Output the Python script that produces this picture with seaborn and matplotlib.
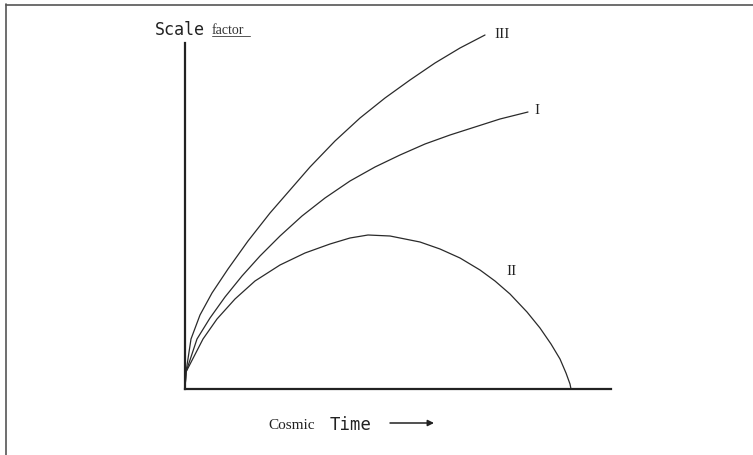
import matplotlib
matplotlib.use("Agg")
import matplotlib.pyplot as plt
from matplotlib.lines import Line2D
import pandas as pd
import seaborn as sns

sns.set_theme(style="white")

# values (1 unit = 10 px of the original)
t_open = [0.0, 0.1, 0.6, 1.5, 2.7, 4.3, 6.3, 8.5, 10.5, 12.5, 15.0, 17.5,
          20.0, 22.5, 25.0, 27.5, 30.0]
a_open = [0.0, 1.7, 5.0, 7.4, 9.6, 12.0, 14.8, 17.6, 19.9, 22.2, 24.8, 27.1,
          29.1, 30.9, 32.6, 34.1, 35.4]

t_flat = [0.0, 0.1, 1.2, 2.5, 4.0, 5.7, 7.5, 9.5, 11.7, 14.0, 16.5, 19.0,
          21.5, 24.0, 26.5, 29.0, 31.5, 34.3]
a_flat = [0.0, 1.7, 5.0, 7.1, 9.2, 11.3, 13.3, 15.3, 17.3, 19.1, 20.8, 22.2,
          23.4, 24.5, 25.4, 26.2, 27.0, 27.7]

t_closed = [0.0, 0.1, 1.8, 3.2, 5.0, 7.0, 9.5, 12.0, 14.5, 16.5, 18.3, 20.5,
            23.5, 25.5, 27.5, 29.5, 31.0, 32.5, 34.2, 35.5, 36.6, 37.5, 38.1,
            38.5, 38.6]
a_closed = [0.0, 1.7, 5.0, 7.0, 9.0, 10.8, 12.4, 13.6, 14.5, 15.1, 15.4, 15.3,
            14.7, 14.0, 13.1, 11.9, 10.8, 9.5, 7.7, 6.1, 4.5, 3.0, 1.6,
            0.5, 0.0]

curve_names = ["III", "I", "II"]

df = pd.concat([
    pd.DataFrame({"t": t_open, "a": a_open, "model": "III"}),
    pd.DataFrame({"t": t_flat, "a": a_flat, "model": "I"}),
    pd.DataFrame({"t": t_closed, "a": a_closed, "model": "II"}),
])

W, H = 753, 456
fig = plt.figure(figsize=(W / 100, H / 100), dpi=100)
ax = fig.add_axes([185 / W, (H - 390) / H, 426 / W, 360 / H])

sns.lineplot(data=df, x="t", y="a", units="model", estimator=None, sort=False,
             color="#2a2a2a", linewidth=0.9, ax=ax, legend=False)
for ln in ax.lines:
    ln.set_clip_on(False)
    ln.set_solid_joinstyle("round")

ax.set_xlim(0, 42.6)
ax.set_ylim(0, 36)
ax.set_xticks([])
ax.set_yticks([])
ax.set_xlabel("")
ax.set_ylabel("")
sns.despine(ax=ax, top=True, right=True)
for side in ["left", "bottom"]:
    ax.spines[side].set_color("#222222")
    ax.spines[side].set_linewidth(1.6)
ax.spines["left"].set_bounds(0, 34.6)
ax.patch.set_alpha(0)


def fx(px):
    return px / W


def fy(py):
    return 1 - py / H


mono = ["DejaVu Sans Mono"]
serif = ["Liberation Serif", "DejaVu Serif"]

fig.text(fx(155), fy(30), "Scale", family=mono, fontsize=12, color="#222222",
         va="center", ha="left")
fig.text(fx(212), fy(31), "factor", family=serif, fontsize=10, color="#333333",
         va="center", ha="left")
fig.add_artist(Line2D([fx(212), fx(250)], [fy(37), fy(37)], color="#555555", lw=0.7))

fig.text(fx(268), fy(426), "Cosmic", family=serif, fontsize=11, color="#222222",
         va="center", ha="left")
fig.text(fx(330), fy(425), "Time", family=mono, fontsize=12.5, color="#222222",
         va="center", ha="left")
ax.annotate("", xy=(fx(434), fy(424)), xytext=(fx(390), fy(424)),
            xycoords="figure fraction", textcoords="figure fraction",
            arrowprops=dict(arrowstyle="-|>", color="#222222", lw=1.1,
                            mutation_scale=9, shrinkA=0, shrinkB=0))

label_pos = {"III": (502, 34), "I": (537, 111), "II": (512, 272)}
for name in curve_names:
    px, py = label_pos[name]
    fig.text(fx(px), fy(py), name, family=serif, fontsize=11, color="#222222",
             va="center", ha="center")

# page border (top and left edges of the scan)
fig.add_artist(Line2D([fx(6), fx(W)], [fy(5.5), fy(5.5)], color="#555555", lw=1.2))
fig.add_artist(Line2D([fx(6.5), fx(6.5)], [fy(5), fy(H)], color="#555555", lw=1.2))

fig.savefig("out.png", dpi=100, facecolor="white")
